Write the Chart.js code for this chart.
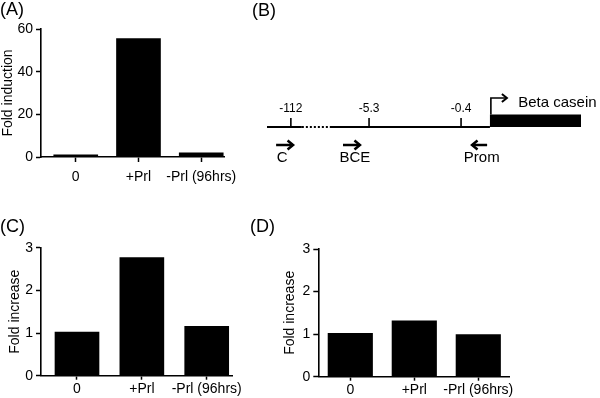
<!DOCTYPE html>
<html><head><meta charset="utf-8">
<script src="https://cdn.jsdelivr.net/npm/chart.js@4.4.0/dist/chart.umd.min.js"></script>
<style>
html,body{margin:0;padding:0;background:#fff;width:600px;height:398px;overflow:hidden;position:relative;}
.wrap{position:absolute;}
.lab{position:absolute;font:18px "Liberation Sans",Arial,sans-serif;line-height:1;color:#000;}
canvas{display:block;}
</style></head><body>
<div class="wrap" style="left:0;top:0"><canvas id="cA" width="245" height="195"></canvas></div>
<div class="wrap" style="left:245px;top:60px"><canvas id="cB" width="355" height="130"></canvas></div>
<div class="wrap" style="left:0;top:200px"><canvas id="cC" width="245" height="198"></canvas></div>
<div class="wrap" style="left:260px;top:200px"><canvas id="cD" width="340" height="198"></canvas></div>
<div class="lab" style="left:0;top:0">(A)</div>
<div class="lab" style="left:252px;top:1px">(B)</div>
<div class="lab" style="left:0;top:217px">(C)</div>
<div class="lab" style="left:250px;top:217px">(D)</div>
<script>
// ---- data ----
const categories = ['0', '+Prl', '-Prl (96hrs)'];
const foldInductionA = [1.0, 55.5, 1.9];
const foldIncreaseC = [1.02, 2.77, 1.16];
const foldIncreaseD = [1.02, 1.31, 0.99];
const yTicksA = [0, 20, 40, 60];
const yTicksCD = [0, 1, 2, 3];

// ---- panel B schematic (arbitrary schematic units) ----
const sites = ['-112', '-5.3', '-0.4'];
const sitePos = [7.6, 32.5, 61.8];
const primers = ['C', 'BCE', 'Prom'];
const primerFrom = [2.9, 24.2, 70.1];
const primerTo = [8.3, 29.6, 65.3];
const primerLabelPos = [4.8, 28.0, 68.4];
const geneName = 'Beta casein';
const geneStart = 71, geneEnd = 100, geneHeight = 12.5;
const gapStart = 11.1, gapEnd = 20;
const siteTickH = 9, siteLabelY = 18.5;
const tssH = 29, tssEnd = 76.4, geneLabelX = 80, geneLabelY = 24;
const primerY = -18, primerLabelY = -30.5;

Chart.defaults.font.family = '"Liberation Sans", Arial, sans-serif';
Chart.defaults.color = '#000';

function barPanel(id, values, yTicks, yTitle, g) {
  return new Chart(document.getElementById(id), {
    type: 'bar',
    data: { datasets: [{ data: values.map((v, i) => ({ x: i + 1, y: v })), backgroundColor: '#000', borderWidth: 0, barThickness: g.bar }] },
    options: {
      responsive: false, animation: false, devicePixelRatio: 1,
      layout: { padding: g.pad },
      plugins: { legend: { display: false }, tooltip: { enabled: false } },
      scales: {
        x: {
          type: 'linear', min: g.xmin, max: g.xmax, offset: false,
          afterBuildTicks: s => { s.ticks = categories.map((c, i) => ({ value: i + 1 })); },
          afterFit: s => { s.height = g.xh; },
          ticks: { callback: (v, i) => categories[i], padding: g.xpad, font: { size: 14 }, color: '#000', maxRotation: 0, autoSkip: false },
          grid: { offset: false, drawOnChartArea: false, drawTicks: true, tickLength: g.tl, tickColor: '#000', tickWidth: 1.5 },
          border: { display: true, color: '#000', width: 1.6 }
        },
        y: {
          min: yTicks[0], max: yTicks[yTicks.length - 1],
          afterBuildTicks: s => { s.ticks = yTicks.map(v => ({ value: v })); },
          afterFit: s => { s.width = g.yw; },
          ticks: { padding: 3, font: { size: 14 }, color: '#000' },
          title: { display: true, text: yTitle, font: { size: 14 }, color: '#000', padding: 0 },
          grid: { offset: false, drawOnChartArea: false, drawTicks: true, tickLength: 5, tickColor: '#000', tickWidth: 1.5 },
          border: { display: true, color: '#000', width: 1.6 }
        }
      }
    }
  });
}

barPanel('cA', foldInductionA, yTicksA, 'Fold induction',
  { pad: { left: 0, top: 29, right: 14, bottom: 0 }, yw: 41, xh: 38, xmin: 0.4462, xmax: 3.369, bar: 44, tl: 5, xpad: 7 });
barPanel('cC', foldIncreaseC, yTicksCD, 'Fold increase',
  { pad: { left: 7, top: 47.7, right: 13, bottom: 0 }, yw: 34, xh: 22.3, xmin: 0.445, xmax: 3.39, bar: 44, tl: 4, xpad: 1 });
barPanel('cD', foldIncreaseD, yTicksCD, 'Fold increase',
  { pad: { left: 22, top: 49, right: 91, bottom: 0 }, yw: 36.3, xh: 21.3, xmin: 0.5, xmax: 3.48, bar: 44.5, tl: 4, xpad: 1 });

// ---- panel B ----
const seg = (pts, extra) => Object.assign({ data: pts, showLine: true, borderColor: '#000', backgroundColor: '#000', borderWidth: 2, pointRadius: 0, fill: false, tension: 0 }, extra || {});
const bDatasets = [
  seg([{ x: 0, y: 0 }, { x: gapStart, y: 0 }]),
  seg([{ x: gapStart, y: 0 }, { x: gapEnd, y: 0 }], { borderDash: [2, 2] }),
  seg([{ x: gapEnd, y: 0 }, { x: geneStart, y: 0 }]),
  seg([{ x: geneStart, y: geneHeight / 2 }, { x: geneEnd, y: geneHeight / 2 }], { borderWidth: geneHeight, borderCapStyle: 'butt' }),
  ...sitePos.map(p => seg([{ x: p, y: 0 }, { x: p, y: siteTickH }], { borderWidth: 1.6 })),
  seg([{ x: geneStart + 0.3, y: geneHeight }, { x: geneStart + 0.3, y: tssH }, { x: tssEnd, y: tssH }], { arrow: 1, borderWidth: 1.6 }),
  ...primerFrom.map((f, i) => seg([{ x: f, y: primerY }, { x: primerTo[i], y: primerY }], { arrow: 2, borderWidth: 2.5 }))
];
const arrowPlugin = {
  id: 'arrows',
  afterDatasetsDraw(chart) {
    const ctx = chart.ctx;
    chart.data.datasets.forEach((ds, i) => {
      if (!ds.arrow) return;
      const pts = chart.getDatasetMeta(i).data;
      const a = pts[pts.length - 2], b = pts[pts.length - 1];
      const ang = Math.atan2(b.y - a.y, b.x - a.x);
      const big = ds.arrow === 2;
      ctx.save();
      ctx.translate(b.x, b.y); ctx.rotate(ang);
      ctx.strokeStyle = '#000'; ctx.lineWidth = big ? 2.5 : 2; ctx.lineJoin = 'miter'; ctx.lineCap = 'butt';
      const L = big ? 5.5 : 5, W = big ? 4.5 : 4;
      ctx.beginPath(); ctx.moveTo(-L, -W); ctx.lineTo(0, 0); ctx.lineTo(-L, W); ctx.stroke();
      ctx.restore();
    });
  }
};
const textPlugin = {
  id: 'schematicText',
  afterDraw(chart) {
    const { ctx, scales: { x, y } } = chart;
    ctx.save();
    ctx.fillStyle = '#000'; ctx.textBaseline = 'middle';
    ctx.font = '12px "Liberation Sans", Arial, sans-serif'; ctx.textAlign = 'center';
    sites.forEach((s, i) => ctx.fillText(s, x.getPixelForValue(sitePos[i]), y.getPixelForValue(siteLabelY)));
    ctx.font = '15px "Liberation Sans", Arial, sans-serif';
    primers.forEach((p, i) => ctx.fillText(p, x.getPixelForValue(primerLabelPos[i]), y.getPixelForValue(primerLabelY)));
    ctx.textAlign = 'left';
    ctx.fillText(geneName, x.getPixelForValue(geneLabelX), y.getPixelForValue(geneLabelY));
    ctx.restore();
  }
};
new Chart(document.getElementById('cB'), {
  type: 'scatter',
  data: { datasets: bDatasets },
  options: {
    responsive: false, animation: false, devicePixelRatio: 1,
    layout: { padding: { left: 22, right: 19, top: 0, bottom: 0 } },
    plugins: { legend: { display: false }, tooltip: { enabled: false } },
    scales: {
      x: { type: 'linear', display: false, min: 0, max: 100 },
      y: { type: 'linear', display: false, min: -63, max: 67 }
    }
  },
  plugins: [arrowPlugin, textPlugin]
});
</script>
</body></html>
